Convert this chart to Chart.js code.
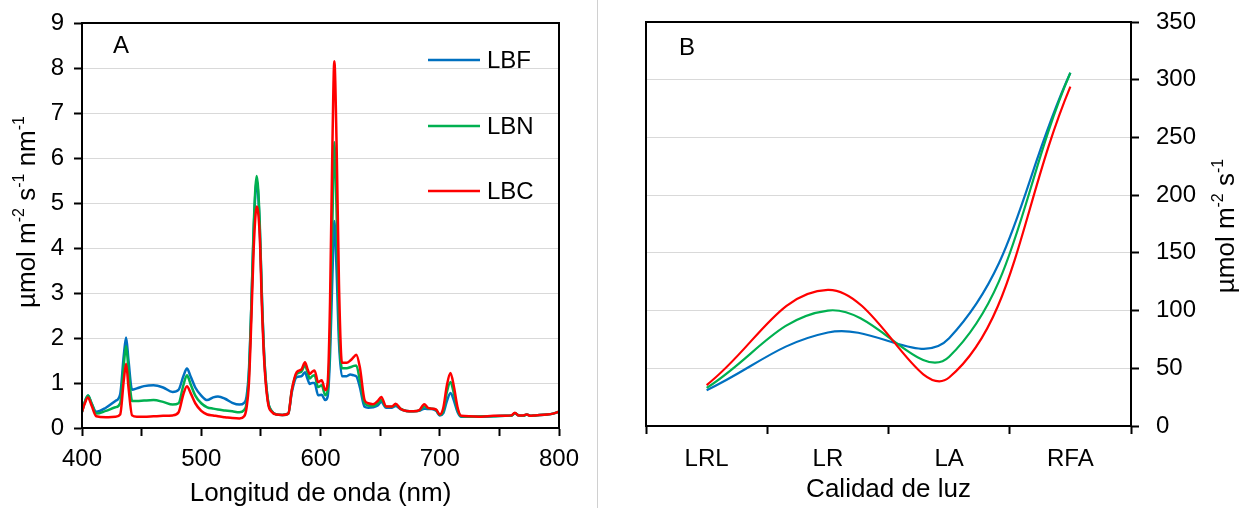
<!DOCTYPE html>
<html>
<head>
<meta charset="utf-8">
<script src="https://cdn.jsdelivr.net/npm/chart.js@4/dist/chart.umd.min.js"></script>
<style>
  body { margin: 0; background: #fff; }
  #wrap { position: relative; width: 1243px; height: 508px; }
  #boxA { position: absolute; left: 0; top: 0; width: 597px; height: 508px; }
  #boxB { position: absolute; left: 597px; top: 0; width: 646px; height: 508px; }
  #divider { position: absolute; left: 597px; top: 0; width: 1px; height: 508px; background: #d0d0d0; }
</style>
</head>
<body>
<div id="wrap">
  <div id="boxA"><canvas id="chartA" width="597" height="508"></canvas></div>
  <div id="divider"></div>
  <div id="boxB"><canvas id="chartB" width="646" height="508"></canvas></div>
</div>
<script>
// panel A: spectra (nm)
const wavelengths = [400,402,405,408,412,420,428,432,435,437,439,442,446,452,460,468,476,481,485,488,491,495,500,505,510,514,520,526,532,536,538,540,542,544,546.5,549,551,553,556,559,563,568,573,576,580,584,587,589,591,593,595,598,601,604,606,608,610,611.6,613.5,615.5,618,622,625,628,630,633,637,640,644,648,651,655,660,663,667,672,678,683,687,690,693,697,700,703,706,709,712,715,718,725,735,745,755,760,763,766,770,773,776,780,790,795,800];
const lbf = [.36,.55,.72,.55,.36,.45,.60,.75,1.6,2.01,1.5,.85,.88,.93,.95,.9,.8,.85,1.15,1.32,1.15,.9,.72,.62,.68,.70,.65,.56,.52,.56,.70,1.3,2.7,4.4,5.5,4.5,2.8,1.5,.6,.38,.30,.29,.32,.8,1.13,1.15,1.24,1.1,.98,1.0,1.0,.73,.74,.62,.70,1.6,3.4,4.6,3.5,1.9,1.15,1.15,1.19,1.17,1.15,.91,.47,.45,.46,.50,.58,.45,.45,.49,.42,.38,.37,.38,.43,.42,.42,.38,.28,.33,.6,.78,.6,.35,.25,.25,.25,.26,.27,.27,.33,.28,.27,.30,.27,.28,.30,.32,.36];
const lbn = [.36,.55,.72,.55,.32,.38,.46,.55,1.4,1.82,1.3,.6,.6,.61,.62,.58,.52,.55,.95,1.17,.98,.72,.55,.46,.43,.41,.39,.37,.35,.40,.55,1.2,2.7,4.5,5.6,4.6,2.8,1.5,.6,.38,.30,.29,.32,.85,1.2,1.25,1.39,1.25,1.1,1.15,1.17,.91,.95,.73,.85,2.0,4.6,6.35,4.8,2.3,1.33,1.33,1.35,1.38,1.39,1.06,.55,.50,.49,.55,.62,.47,.47,.52,.43,.38,.37,.39,.48,.44,.43,.40,.29,.38,.8,1.02,.75,.4,.26,.25,.26,.26,.27,.27,.33,.28,.27,.30,.27,.28,.30,.32,.36];
const lbc = [.36,.52,.68,.50,.26,.24,.25,.30,1.05,1.43,.9,.28,.25,.25,.26,.27,.28,.35,.75,.93,.78,.55,.38,.30,.28,.26,.24,.22,.21,.26,.45,1.0,2.4,4.0,4.92,4.3,2.6,1.4,.55,.36,.30,.29,.32,.85,1.24,1.3,1.46,1.32,1.2,1.25,1.28,1.02,1.06,.84,1.0,2.8,6.3,8.15,6.3,3.2,1.45,1.45,1.5,1.58,1.63,1.35,.62,.55,.53,.60,.69,.48,.48,.54,.43,.38,.37,.40,.53,.45,.43,.41,.30,.45,.95,1.22,.9,.45,.27,.26,.25,.27,.27,.28,.34,.28,.28,.30,.27,.28,.30,.32,.36];

// panel B: PAR per light quality
const qualityLabels = ['LRL', 'LR', 'LA', 'RFA'];
const lbfPar = [31, 81, 76, 306];
const lbnPar = [33, 100, 60, 306];
const lbcPar = [35.5, 118, 42, 294];

const seriesNames = ['LBF', 'LBN', 'LBC'];
const seriesColors = ['#0070C0', '#00B050', '#FF0000'];

const FONT = "'Liberation Sans', Arial, sans-serif";
Chart.defaults.font.family = FONT;
Chart.defaults.font.size = 24;
Chart.defaults.color = '#000';

function drawRotatedSup(ctx, parts, cx, cy, size) {
  ctx.save();
  ctx.translate(cx, cy);
  ctx.rotate(-Math.PI / 2);
  const base = size + 'px ' + FONT;
  const small = Math.round(size * 0.62) + 'px ' + FONT;
  let total = 0;
  parts.forEach(p => { ctx.font = p[1] ? small : base; total += ctx.measureText(p[0]).width; });
  let x = -total / 2;
  ctx.textBaseline = 'middle';
  ctx.fillStyle = '#000';
  parts.forEach(p => {
    ctx.font = p[1] ? small : base;
    ctx.fillText(p[0], x, p[1] ? -size * 0.33 : 0);
    x += ctx.measureText(p[0]).width;
  });
  ctx.restore();
}

function centerText(ctx, text, x, y, size) {
  ctx.save();
  ctx.fillStyle = '#000';
  ctx.font = size + 'px ' + FONT;
  ctx.textAlign = 'center';
  ctx.textBaseline = 'middle';
  ctx.fillText(text, x, y);
  ctx.restore();
}

const framePlugin = {
  id: 'frame',
  afterDraw(chart) {
    const { ctx, chartArea: a } = chart;
    ctx.save();
    ctx.strokeStyle = '#000';
    ctx.lineWidth = 2;
    ctx.strokeRect(a.left, a.top, a.right - a.left, a.bottom - a.top);
    ctx.restore();
  }
};

const decorA = {
  id: 'decorA',
  afterDraw(chart) {
    const ctx = chart.ctx;
    const a = chart.chartArea;
    ctx.save();
    ctx.fillStyle = '#000';
    ctx.font = '24px ' + FONT;
    ctx.textBaseline = 'middle';
    ctx.fillText('A', 113, 46);
    const ys = [60, 126, 191];
    seriesNames.forEach((n, i) => {
      ctx.strokeStyle = seriesColors[i];
      ctx.lineWidth = 2.5;
      ctx.beginPath();
      ctx.moveTo(428, ys[i]);
      ctx.lineTo(480, ys[i]);
      ctx.stroke();
      ctx.fillStyle = '#000';
      ctx.fillText(n, 487, ys[i] + 1);
    });
    ctx.restore();
    centerText(ctx, 'Longitud de onda (nm)', (a.left + a.right) / 2, 494, 26);
    drawRotatedSup(ctx, [['µmol m', 0], ['-2', 1], [' s', 0], ['-1', 1], [' nm', 0], ['-1', 1]], 28, 212, 26);
  }
};

const decorB = {
  id: 'decorB',
  afterDraw(chart) {
    const ctx = chart.ctx;
    const a = chart.chartArea;
    ctx.save();
    ctx.fillStyle = '#000';
    ctx.font = '24px ' + FONT;
    ctx.textBaseline = 'middle';
    ctx.fillText('B', 82, 48);
    ctx.restore();
    centerText(ctx, 'Calidad de luz', (a.left + a.right) / 2, 490, 26);
    drawRotatedSup(ctx, [['µmol m', 0], ['-2', 1], [' s', 0], ['-1', 1]], 630, 226, 26);
  }
};

const spectra = [lbf, lbn, lbc];
new Chart(document.getElementById('chartA'), {
  type: 'line',
  data: {
    datasets: seriesNames.map((name, i) => ({
      label: name,
      data: wavelengths.map((w, j) => ({ x: w, y: spectra[i][j] })),
      borderColor: seriesColors[i],
      borderWidth: 2.5,
      pointRadius: 0,
      cubicInterpolationMode: 'monotone',
      order: 2 - i
    }))
  },
  options: {
    responsive: false,
    animation: false,
    layout: { padding: { top: 23, right: 38, left: 0, bottom: 0 } },
    plugins: { legend: { display: false }, tooltip: { enabled: false } },
    scales: {
      x: {
        type: 'linear', min: 400, max: 800,
        ticks: { stepSize: 50, maxRotation: 0, padding: 9, callback: v => (v % 100 === 0 ? v : '') },
        grid: { drawOnChartArea: false, tickLength: 8, tickColor: '#000', tickWidth: 2 },
        border: { color: '#000', width: 2 },
        afterFit: s => { s.height = 80; }
      },
      y: {
        min: 0, max: 9,
        ticks: { stepSize: 1, padding: 10 },
        grid: { color: '#d9d9d9', tickColor: '#000', tickLength: 8, tickWidth: 2 },
        border: { color: '#000', width: 2 },
        afterFit: s => { s.width = 82; s.paddingTop = 0; s.paddingBottom = 0; }
      }
    }
  },
  plugins: [framePlugin, decorA]
});

const parSeries = [lbfPar, lbnPar, lbcPar];
new Chart(document.getElementById('chartB'), {
  type: 'line',
  data: {
    labels: qualityLabels,
    datasets: seriesNames.map((name, i) => ({
      label: name,
      data: parSeries[i],
      borderColor: seriesColors[i],
      borderWidth: 2.2,
      pointRadius: 0,
      tension: 0.4,
      order: 2 - i
    }))
  },
  options: {
    responsive: false,
    animation: false,
    layout: { padding: { top: 22, left: 49, right: 0, bottom: 0 } },
    plugins: { legend: { display: false }, tooltip: { enabled: false } },
    scales: {
      x: {
        type: 'category', offset: true,
        ticks: { padding: 11 },
        grid: { offset: true, drawOnChartArea: false, tickLength: 8, tickColor: '#000', tickWidth: 2 },
        border: { color: '#000', width: 2 },
        afterFit: s => { s.height = 82; }
      },
      y: {
        position: 'right', min: 0, max: 350,
        ticks: { stepSize: 50, padding: 17 },
        grid: { color: '#d9d9d9', tickColor: '#000', tickLength: 8, tickWidth: 2 },
        border: { color: '#000', width: 2 },
        afterFit: s => { s.width = 112; s.paddingTop = 0; s.paddingBottom = 0; }
      }
    }
  },
  plugins: [framePlugin, decorB]
});
</script>
</body>
</html>
